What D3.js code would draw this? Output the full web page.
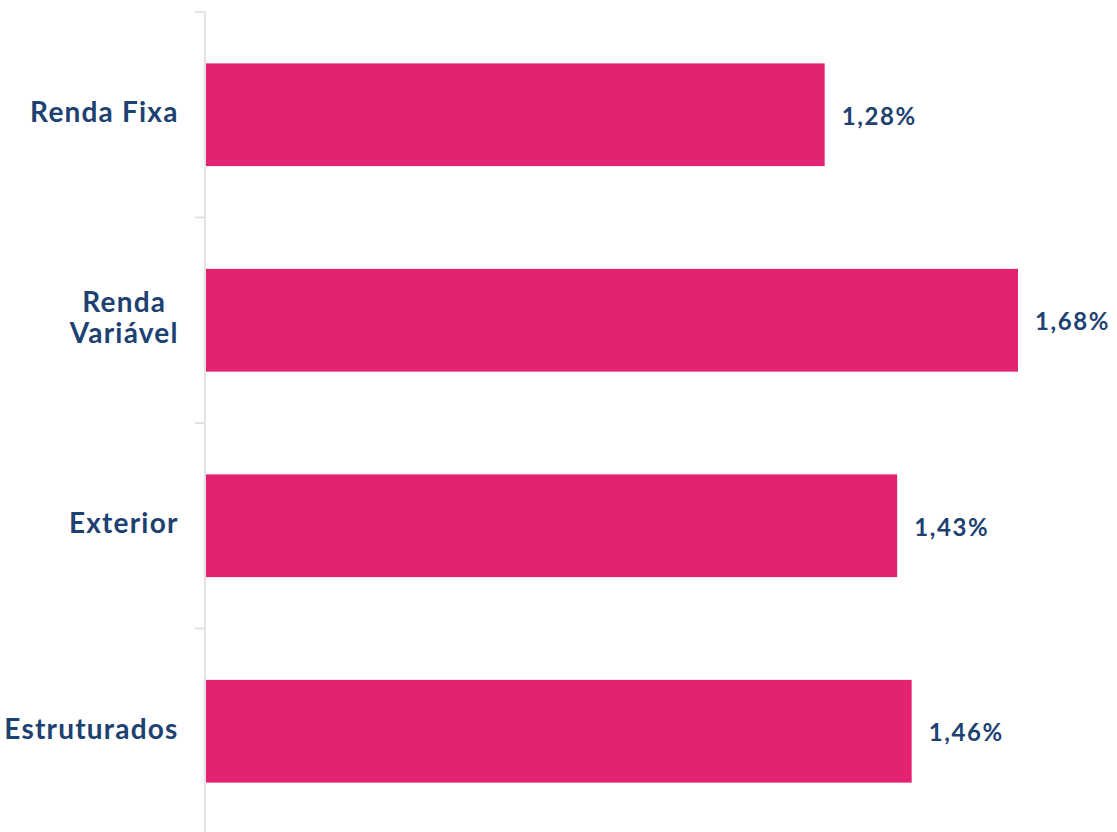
<!DOCTYPE html>
<html>
<head>
<meta charset="utf-8">
<script src="https://cdn.jsdelivr.net/npm/d3@7"></script>
<style>
  body { margin: 0; background: #fff; }
  svg text { font-family: Lato, "Open Sans", sans-serif; font-weight: 700; fill: #1d4171; }
</style>
</head>
<body>
<svg id="chart" width="1117" height="832"></svg>
<script>
var categories = ["Renda Fixa", "Renda Variável", "Exterior", "Estruturados"];
var labelLines = [["Renda Fixa"], ["Renda", "Variável"], ["Exterior"], ["Estruturados"]];
var values = [1.28, 1.68, 1.43, 1.46];
var valueLabels = ["1,28%", "1,68%", "1,43%", "1,46%"];

var svg = d3.select("#chart");
var x0 = 206;

var y = d3.scaleBand()
    .domain(categories)
    .range([12, 834])
    .paddingInner(0.5)
    .paddingOuter(0.25);

var x = d3.scaleLinear()
    .domain([0, 1.68])
    .range([x0, 1018]);

// axis line + ticks at band boundaries
var boundaries = categories.map(function (d) { return y(d) - y.step() * 0.25; });
svg.append("line")
    .attr("x1", 205).attr("x2", 205)
    .attr("y1", 12).attr("y2", 832)
    .attr("stroke", "#e3e3e3").attr("stroke-width", 2);
svg.selectAll(".tick")
    .data(boundaries)
    .enter().append("line")
    .attr("x1", 195).attr("x2", 205)
    .attr("y1", function (d) { return d; })
    .attr("y2", function (d) { return d; })
    .attr("stroke", "#e3e3e3").attr("stroke-width", 2);

svg.selectAll(".bar")
    .data(categories)
    .enter().append("rect")
    .attr("x", x(0))
    .attr("y", function (d) { return y(d); })
    .attr("width", function (d, i) { return x(values[i]) - x(0); })
    .attr("height", y.bandwidth())
    .attr("fill", "#e32272");

// category labels (multi-line blocks are centred, block right-aligned)
var lineH = 31, labelRight = 178;
svg.selectAll(".cat")
    .data(categories)
    .enter().append("text")
    .attr("font-size", "28px")
    .attr("letter-spacing", "1.2px")
    .each(function (d, i) {
        var lines = labelLines[i];
        var cy = y(d) + y.bandwidth() / 2;
        var t = d3.select(this);
        var spans = lines.map(function (l, j) {
            return t.append("tspan")
                .attr("y", cy + (j - (lines.length - 1) / 2) * lineH)
                .attr("dy", "0.26em")
                .text(l);
        });
        var maxW = d3.max(spans, function (s) { return s.node().getComputedTextLength(); });
        t.attr("text-anchor", "middle");
        spans.forEach(function (s) { s.attr("x", labelRight - maxW / 2 + 0.6); });
    });

// value labels
svg.selectAll(".val")
    .data(categories)
    .enter().append("text")
    .attr("x", function (d, i) { return x(values[i]) + 17; })
    .attr("y", function (d) { return y(d) + y.bandwidth() / 2; })
    .attr("dy", "0.42em")
    .attr("font-size", "24px")
    .attr("letter-spacing", "1.6px")
    .text(function (d, i) { return valueLabels[i]; });
</script>
</body>
</html>
